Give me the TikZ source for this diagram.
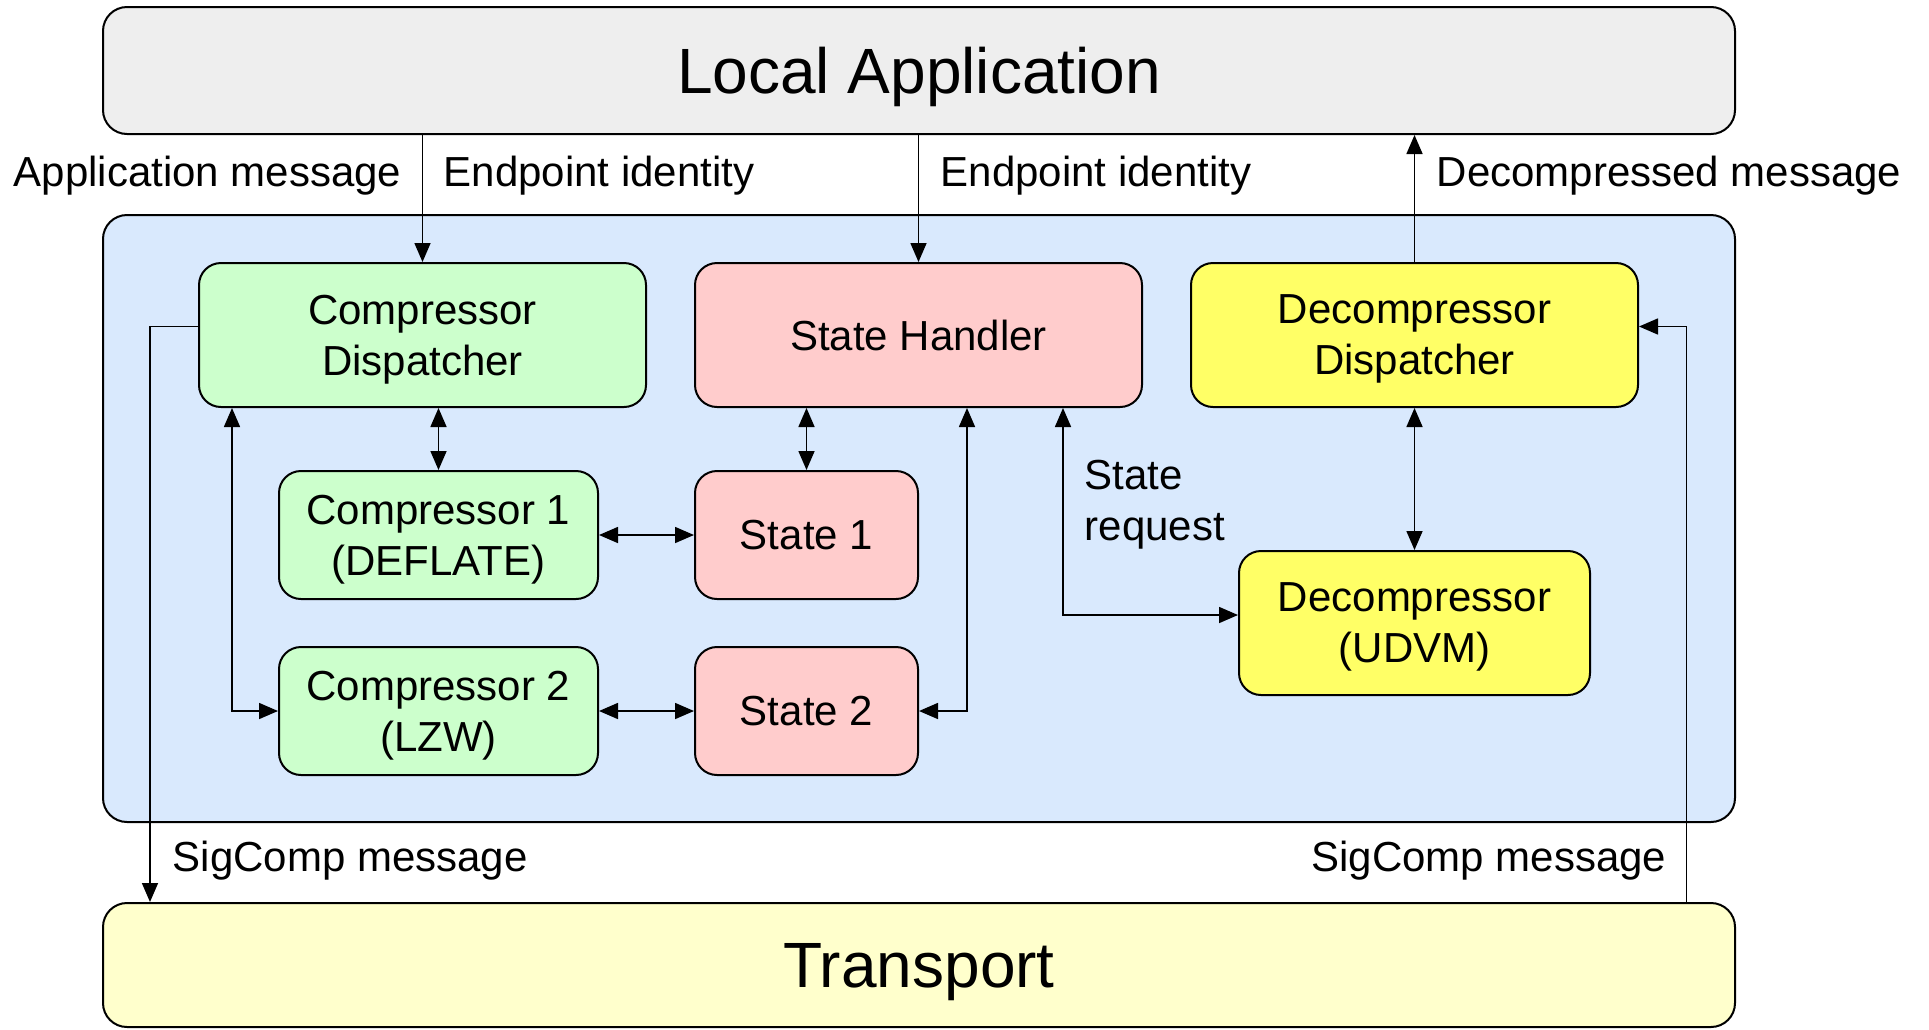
\documentclass[tikz,border=0pt]{standalone}
\usepackage{fontspec}
\setmainfont{Liberation Sans}
\usetikzlibrary{arrows.meta}

\definecolor{appgrey}{HTML}{EEEEEE}
\definecolor{coreblue}{HTML}{D9E9FD}
\definecolor{transyellow}{HTML}{FFFFCC}
\definecolor{compgreen}{HTML}{CCFFCC}
\definecolor{statepink}{HTML}{FFCCCC}
\definecolor{decyellow}{HTML}{FFFF66}

\begin{document}
\begin{tikzpicture}[x=1pt,y=-1pt,>={Triangle[length=19pt,width=16pt]},line width=1.6pt,
  layer box/.style={draw,line width=2pt,rounded corners=24pt,minimum width=1632pt,text depth=0pt,font=\fontsize{64}{77}\selectfont},
  unit box/.style={draw,line width=2pt,rounded corners=22pt,align=center,text depth=0pt,font=\fontsize{42}{51}\selectfont},
  comp box/.style={unit box,fill=compgreen},
  state box/.style={unit box,fill=statepink},
  decomp box/.style={unit box,fill=decyellow},
  msg label/.style={inner sep=0pt,font=\fontsize{42}{51}\selectfont}]
  \useasboundingbox (0,0) rectangle (1929,1029);
  \node[layer box,fill=appgrey,minimum height=127pt] (app) at (919,70.5) {Local Application};
  \node[layer box,fill=coreblue,minimum height=607pt] (core) at (919,518.5) {};
  \node[layer box,fill=transyellow,minimum height=124pt] (tr) at (919,965) {Transport};

  \node[comp box,minimum width=447pt,minimum height=144pt] (cd) at (422.5,335) {Compressor\\Dispatcher};
  \node[state box,minimum width=447pt,minimum height=144pt] (sh) at (918.5,335) {State Handler};
  \node[decomp box,minimum width=447pt,minimum height=144pt] (dd) at (1414.5,335) {Decompressor\\Dispatcher};
  \node[comp box,minimum width=319pt,minimum height=128pt] (c1) at (438.5,535) {Compressor 1\\(DEFLATE)};
  \node[comp box,minimum width=319pt,minimum height=128pt] (c2) at (438.5,711) {Compressor 2\\(LZW)};
  \node[state box,minimum width=223pt,minimum height=128pt] (s1) at (806.5,535) {State 1};
  \node[state box,minimum width=223pt,minimum height=128pt] (s2) at (806.5,711) {State 2};
  \node[decomp box,minimum width=351pt,minimum height=144pt] (du) at (1414.5,623) {Decompressor\\(UDVM)};

  \node[msg label,anchor=base east] (appmsg) at (402,186) {Application message};
  \node[msg label,anchor=base west] (epid1) at (443,186) {Endpoint identity};
  \node[msg label,anchor=base west] (epid2) at (940,186) {Endpoint identity};
  \node[msg label,anchor=base west] (decmsg) at (1436,186) {Decompressed message};
  \node[msg label,anchor=west,align=left] (streq) at (1084,505) {State\\request};
  \node[msg label,anchor=base west] (sc1) at (172,871) {SigComp message};
  \node[msg label,anchor=base east] (sc2) at (1667,871) {SigComp message};

  \draw[->] (app.south -| cd.north) -- (cd.north);
  \draw[->] (app.south -| sh.north) -- (sh.north);
  \draw[->] (dd.north) -- (dd.north |- app.south);
  \draw[<->] (c1.north |- cd.south) -- (c1.north);
  \draw[<->] (s1.north |- sh.south) -- (s1.north);
  \draw[<->] (c1.east) -- (s1.west);
  \draw[<->] (c2.east) -- (s2.west);
  \draw[<->] ([xshift=-190.5pt]cd.south) |- (c2.west);
  \draw[<->] ([xshift=48.5pt]sh.south) |- (s2.east);
  \draw[<->] ([xshift=144.5pt]sh.south) |- ([yshift=8pt]du.west);
  \draw[<->] (dd.south) -- (du.north);
  \draw[->] ([yshift=8.5pt]cd.west) -| ([xshift=-769pt]tr.north);
  \draw[->] ([xshift=767.5pt]tr.north) |- ([yshift=8.5pt]dd.east);
\end{tikzpicture}
\end{document}
